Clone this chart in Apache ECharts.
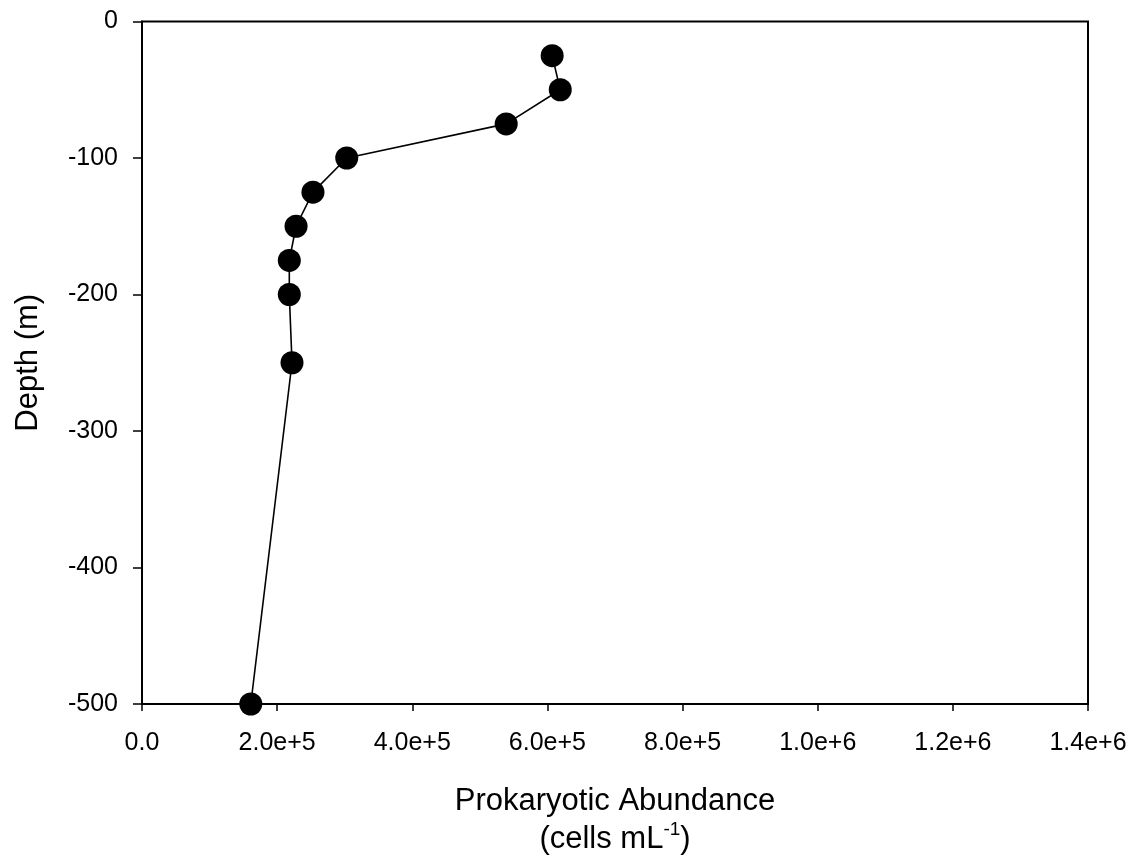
<!DOCTYPE html>
<html>
<head>
<meta charset="utf-8">
<script src="https://cdn.jsdelivr.net/npm/echarts@6/dist/echarts.min.js"></script>
<style>
  html, body { margin: 0; padding: 0; background: #ffffff; }
  #chart { width: 1134px; height: 858px; }
</style>
</head>
<body>
<div id="chart"></div>
<script>
// Depth profile of prokaryotic abundance
const depths = [-25, -50, -75, -100, -125, -150, -175, -200, -250, -500];
const abundance = [6.07e5, 6.19e5, 5.39e5, 3.03e5, 2.53e5, 2.28e5, 2.18e5, 2.18e5, 2.22e5, 1.61e5];

const xMin = 0, xMax = 1.4e6, xStep = 2e5;
const yMin = -500, yMax = 0, yStep = 100;

const FONT = '"Liberation Sans", Arial, sans-serif';

function sciLabel(v) {
  if (v === 0) return '0.0';
  const exp = Math.floor(Math.log10(Math.abs(v)) + 1e-9);
  const mant = v / Math.pow(10, exp);
  return mant.toFixed(1) + 'e+' + exp;
}

const points = abundance.map((a, i) => [a, depths[i]]);

const chart = echarts.init(document.getElementById('chart'), null, { renderer: 'canvas' });
chart.setOption({
  backgroundColor: '#ffffff',
  animation: false,
  grid: {
    left: 142, right: 46, top: 21.5, bottom: 154,
    outerBoundsMode: 'none', containLabel: false,
    show: true, borderColor: '#000', borderWidth: 2, backgroundColor: 'transparent'
  },
  xAxis: {
    type: 'value', min: xMin, max: xMax, interval: xStep,
    name: 'Prokaryotic Abundance\n(cells mL{sup|-1})',
    nameLocation: 'middle', nameGap: 78,
    nameTextStyle: {
      fontFamily: FONT, fontSize: 31, color: '#000', lineHeight: 38,
      rich: { sup: { fontFamily: FONT, fontSize: 19, color: '#000', verticalAlign: 'top', lineHeight: 38, padding: [0, 0, 14, 0] } }
    },
    axisLine: { show: true, onZero: false, lineStyle: { color: '#000', width: 2 } },
    axisTick: { show: true, inside: false, length: 7, lineStyle: { color: '#000', width: 1.5 } },
    axisLabel: { fontFamily: FONT, fontSize: 25, color: '#000', margin: 27, formatter: sciLabel },
    splitLine: { show: false }
  },
  yAxis: {
    type: 'value', min: yMin, max: yMax, interval: yStep,
    name: 'Depth (m)', nameLocation: 'middle', nameGap: 98,
    nameTextStyle: { fontFamily: FONT, fontSize: 31, color: '#000' },
    axisLine: { show: true, onZero: false, lineStyle: { color: '#000', width: 2 } },
    axisTick: { show: true, inside: false, length: 9, lineStyle: { color: '#000', width: 1.5 } },
    axisLabel: { fontFamily: FONT, fontSize: 25, color: '#000', margin: 24 },
    splitLine: { show: false }
  },
  series: [{
    type: 'line',
    data: points,
    clip: false,
    symbol: 'circle',
    symbolSize: 23,
    itemStyle: { color: '#000' },
    lineStyle: { color: '#000', width: 1.6 },
    z: 5
  }]
});
</script>
</body>
</html>
